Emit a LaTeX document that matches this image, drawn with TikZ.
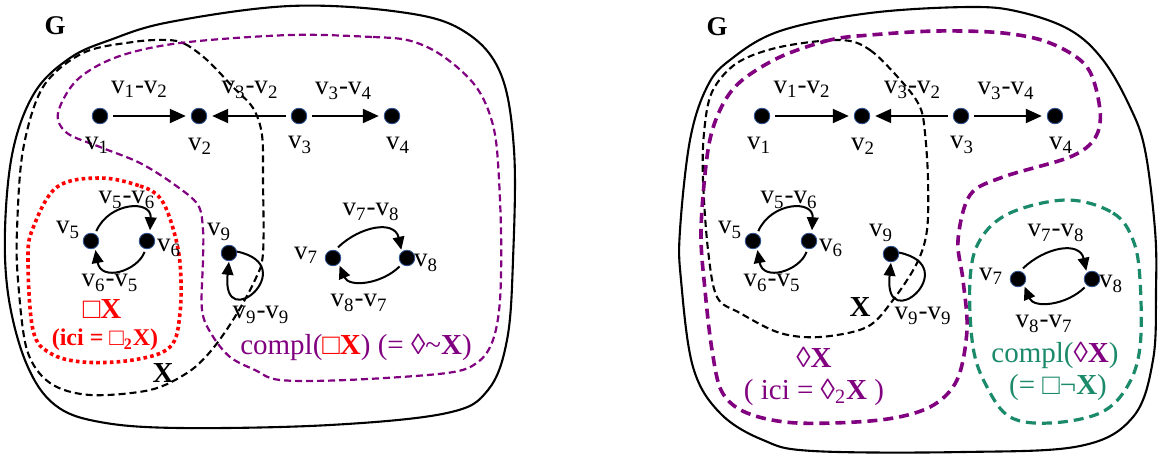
\documentclass[tikz,border=0pt]{standalone}
\usepackage{fontspec}
\setmainfont{Liberation Serif}
\usetikzlibrary{arrows.meta, positioning, calc}
\definecolor{cpurple}{HTML}{800080}
\definecolor{cgreen}{HTML}{1A8A6A}
\definecolor{cred}{HTML}{FF0000}
\definecolor{cdot}{HTML}{2F5597}
\newcommand{\vl}[1]{v\textsubscript{#1}}

\begin{document}
\begin{tikzpicture}[
    x=0.5pt, y=0.5pt,
    vtx/.style={
        circle, fill=black, draw=cdot, line width=0.4pt,
        minimum size=7.8pt, inner sep=0pt
    },
    lbl/.style={font=\fontsize{13.5}{15}\selectfont, inner sep=0pt},
    settxt/.style={font=\fontsize{14.5}{17}\selectfont, inner sep=0pt},
    arc/.style={
        line width=1pt, -{Triangle[length=8pt,width=7pt]},
        shorten >=2.5pt, shorten <=2.5pt
    },
    carc/.style={line width=1pt, -{Triangle[length=6.5pt,width=5.8pt]}},
    gline/.style={line width=1.05pt},
    xline/.style={line width=1.05pt, dash pattern=on 3.5pt off 2pt},
    pline/.style={draw=cpurple, line width=1.1pt, dash pattern=on 3.5pt off 2pt},
    pthick/.style={draw=cpurple, line width=1.8pt, dash pattern=on 5pt off 3pt},
    rline/.style={draw=cred, line width=1.8pt, dash pattern=on 1.8pt off 1.6pt},
    gdash/.style={draw=cgreen, line width=1.6pt, dash pattern=on 5pt off 3pt}
]
\useasboundingbox (0,0) rectangle (1160,-455);

% ---- left panel: regions
\draw[gline] plot[smooth cycle, tension=0.6] coordinates {
  (290,-6) (400,-12) (462,-30) (500,-72) (514,-150) (513,-260) (507,-340)
  (488,-390) (447,-413) (330,-425) (180,-428) (100,-422) (55,-405)
  (27,-365) (9,-300) (5,-230) (13,-150) (35,-92) (70,-58) (110,-40) (170,-22)};
\draw[xline] plot[smooth cycle, tension=0.55] coordinates {
  (167,-40) (185,-44) (207,-60) (233,-87) (253,-108) (262,-135) (263,-180)
  (263,-253) (255,-280) (233,-320) (210,-352) (187,-373) (150,-390) (90,-395)
  (50,-383) (27,-350) (18,-280) (17,-230) (23,-150) (43,-87) (83,-53) (133,-42)};
\draw[pline] plot[smooth cycle, tension=0.55] coordinates {
  (290,-35) (373,-37) (407,-40) (433,-50) (457,-67) (477,-88) (490,-115)
  (497,-150) (501,-230) (500,-300) (493,-340) (478,-362) (447,-373) (347,-380)
  (280,-380) (255,-370) (230,-357) (212,-335) (202,-310) (203,-260) (203,-230)
  (198,-205) (175,-185) (140,-163) (100,-147) (67,-133) (58,-113) (77,-80)
  (117,-57) (180,-43)};
\draw[rline] plot[smooth cycle, tension=0.6] coordinates {
  (100,-178) (140,-186) (160,-198) (172,-225) (180,-263) (180,-313) (170,-347)
  (133,-360) (83,-362) (50,-353) (33,-330) (28,-260) (33,-228) (57,-187)};

% ---- right panel: regions
\draw[gline] plot[smooth cycle, tension=0.6] coordinates {
  (870,-13) (970,-7) (1020,-12) (1070,-30) (1103,-60) (1130,-107) (1145,-150)
  (1155,-230) (1156,-290) (1153,-360) (1133,-417) (1080,-446) (963,-452)
  (813,-451) (763,-440) (720,-413) (693,-367) (681,-280) (680,-230)
  (690,-140) (707,-87) (730,-60) (780,-31)};
\draw[xline] plot[smooth cycle, tension=0.55] coordinates {
  (840,-40) (870,-50) (903,-83) (920,-107) (925,-133) (928,-180) (927,-230)
  (917,-263) (893,-300) (867,-327) (820,-337) (780,-333) (740,-313) (717,-297)
  (708,-250) (703,-180) (704,-133) (712,-92) (737,-63) (780,-47)};
\draw[pthick] plot[smooth cycle, tension=0.55] coordinates {
  (870,-35) (830,-40) (780,-57) (740,-82) (720,-110) (708,-150) (701,-230)
  (705,-290) (712,-350) (722,-392) (747,-413) (797,-423) (880,-420) (930,-407)
  (957,-380) (967,-330) (963,-280) (958,-240) (970,-195) (1003,-177)
  (1070,-157) (1095,-138) (1100,-110) (1087,-67) (1050,-43) (1003,-33) (937,-31)};
\draw[gdash] plot[smooth cycle, tension=0.6] coordinates {
  (1067,-200) (1113,-213) (1133,-240) (1140,-280) (1140,-347) (1127,-387)
  (1100,-413) (1050,-423) (1010,-417) (987,-387) (973,-347) (970,-280)
  (980,-240) (1010,-213)};

% ---- vertices
\node[vtx] (a1) at (100,-116) {};
\node[vtx] (a2) at (199,-116) {};
\node[vtx] (a3) at (299,-116) {};
\node[vtx] (a4) at (392,-116) {};
\node[vtx] (a5) at (91,-241)  {};
\node[vtx] (a6) at (147,-241) {};
\node[vtx] (a9) at (229,-253) {};
\node[vtx] (a7) at (333,-258) {};
\node[vtx] (a8) at (407,-258) {};

\node[vtx] (b1) at (762,-116)  {};
\node[vtx] (b2) at (862,-116)  {};
\node[vtx] (b3) at (961,-116)  {};
\node[vtx] (b4) at (1055,-116) {};
\node[vtx] (b5) at (753,-241)  {};
\node[vtx] (b6) at (809,-241)  {};
\node[vtx] (b9) at (891,-254)  {};
\node[vtx] (b7) at (1018,-279) {};
\node[vtx] (b8) at (1092,-279) {};

% ---- edges and labels, same for both panels
\foreach \p in {a,b}{
  \foreach \i/\dx/\dy in {1/-3/-29, 2/1/-30, 3/1/-29, 4/6/-29,
                          5/-23/11, 6/22/-7, 9/-10/21, 7/-27/3, 8/19/-5}
    \node[lbl] (\p\i t) at ($(\p\i)+(\dx,\dy)$) {\vl{\i}};

  \draw[arc] (\p1) -- (\p2);
  \draw[arc] (\p3) -- (\p2);
  \draw[arc] (\p3) -- (\p4);
  \draw[carc, shorten <=1.5pt, shorten >=1.5pt]
    (\p5.60) .. controls +(14,32) and +(2,34) .. (\p6.70);
  \draw[carc, shorten <=1.5pt, shorten >=1pt]
    (\p6.-100) .. controls +(-8,-22) and +(6,-34) .. (\p5.-60);
  \draw[carc, shorten <=2pt, shorten >=1pt]
    (\p7.75) .. controls +(25,24) and +(-7,32) .. (\p8.130);
  \draw[carc, shorten <=1.5pt, shorten >=1pt]
    (\p8.-130) .. controls +(-20,-20) and +(10,-24) .. (\p7.-45);
  \draw[carc, shorten >=0.3pt]
    (\p9.10) .. controls +(66,-14) and +(-8,-76) .. (\p9.-90);

  \node[lbl] (\p12) at ($(\p1)!0.5!(\p2)+(-10,27)$) {\vl{1}-\vl{2}};
  \node[lbl] (\p32) at ($(\p3)!0.5!(\p2)+(1,26)$)   {\vl{3}-\vl{2}};
  \node[lbl] (\p34) at ($(\p3)!0.5!(\p4)+(-2,25)$)  {\vl{3}-\vl{4}};
  \node[lbl] (\p56) at ($(\p5)!0.5!(\p6)+(8,41)$)   {\vl{5}-\vl{6}};
  \node[lbl] (\p65) at ($(\p5)!0.5!(\p6)+(-9,-42)$) {\vl{6}-\vl{5}};
  \node[lbl] (\p99) at ($(\p9)+(32,-62)$)           {\vl{9}-\vl{9}};
  \node[lbl] (\p78) at ($(\p7)!0.5!(\p8)+(1,46)$)   {\vl{7}-\vl{8}};
  \node[lbl] (\p87) at ($(\p7)!0.5!(\p8)+(-11,-45)$) {\vl{8}-\vl{7}};
}

% ---- region names
\node[font=\fontsize{13.5}{15}\selectfont\bfseries] (gl) at (55,-26)  {G};
\node[font=\fontsize{13.5}{15}\selectfont\bfseries] (gr) at (717,-27) {G};

\node[settxt, text=cred] (boxx) at (102,-309) {□\textbf{X}};
\node[font=\fontsize{12}{14}\selectfont\bfseries, text=cred, inner sep=0pt]
  (boxici) at (105,-340) {(ici = □\textsubscript{2}X)};
\node[settxt] (xl) at (163,-373) {\textbf{X}};
\node[settxt, text=cpurple] (cbox) at (356,-347)
  {compl(\textcolor{cred}{□\textbf{X}}) (= ◊\textasciitilde\textbf{X})};

\node[settxt] (xr) at (860,-307) {\textbf{X}};
\node[settxt, text=cpurple] (dia) at (814,-357) {◊\textbf{X}};
\node[settxt, text=cpurple] (diaici) at (814,-392) {( ici = ◊\textsubscript{2}\textbf{X} )};
\node[settxt, text=cgreen] (cdia) at (1055,-355)
  {compl(\textcolor{cpurple}{◊\textbf{X}})};
\node[settxt, text=cgreen] (cdia2) at (1058,-388) {(= □¬\textbf{X})};
\end{tikzpicture}
\end{document}
